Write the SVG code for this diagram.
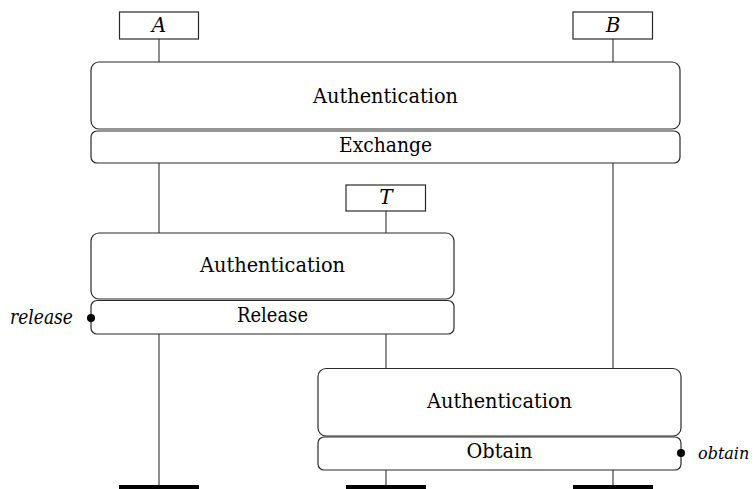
<svg xmlns="http://www.w3.org/2000/svg" width="756" height="489" viewBox="0 0 756 489">
  <style>
    .box { fill: #fff; stroke: #2a2a2a; stroke-width: 1.2; }
    .life { stroke: #444; stroke-width: 1.2; fill: none; }
    .bar { fill: #000; }
    .lbl { font-size: 21px; fill: #000; text-anchor: middle; }
    .it { font-style: italic; font-size: 20px; fill: #000; }
    .side { font-style: italic; font-size: 16px; fill: #000; }
    .dot { fill: #000; }
  </style>
  <rect width="756" height="489" fill="#fff"/>

  <!-- lifelines and terminators -->
  <g id="connectors">
    <path class="life" d="M159 39V62 M159 163V233 M159 334V487"/>
    <path class="life" d="M613 39V62 M613 163V368 M613 470V487"/>
    <path class="life" d="M386 211V233 M386 334V368 M386 470V487"/>
    <rect class="bar" x="119" y="485" width="80" height="4"/>
    <rect class="bar" x="346" y="485" width="80" height="4"/>
    <rect class="bar" x="573" y="485" width="80" height="4"/>
  </g>

  <g font-family="'DejaVu Serif', 'Liberation Serif', serif">
  <g id="A">
    <rect class="box" x="119.5" y="12" width="79" height="27"/>
    <text class="it" x="159" y="32" text-anchor="middle">A</text>
  </g>
  <g id="B">
    <rect class="box" x="573" y="12" width="79.5" height="27"/>
    <text class="it" x="613" y="32" text-anchor="middle">B</text>
  </g>
  <g id="T">
    <rect class="box" x="346" y="185" width="79.5" height="26"/>
    <text class="it" x="386" y="204" text-anchor="middle">T</text>
  </g>

  <g id="exchange">
    <rect class="box" x="91" y="62" width="589" height="67" rx="8"/>
    <text class="lbl" x="385.5" y="103" textLength="145" lengthAdjust="spacingAndGlyphs">Authentication</text>
    <rect class="box" x="91" y="131" width="589" height="32" rx="6"/>
    <text class="lbl" x="385.5" y="152" textLength="93" lengthAdjust="spacingAndGlyphs">Exchange</text>
  </g>

  <g id="release">
    <rect class="box" x="91" y="233" width="363" height="66" rx="8"/>
    <text class="lbl" x="272.5" y="272" textLength="145" lengthAdjust="spacingAndGlyphs">Authentication</text>
    <rect class="box" x="91" y="300.5" width="363" height="33.5" rx="6"/>
    <text class="lbl" x="272.5" y="322" textLength="71" lengthAdjust="spacingAndGlyphs">Release</text>
    <circle class="dot" cx="91" cy="318" r="4"/>
    <text class="it" x="73" y="324" text-anchor="end" textLength="63" lengthAdjust="spacingAndGlyphs">release</text>
  </g>

  <g id="obtain">
    <rect class="box" x="318" y="368.5" width="363" height="67.5" rx="8"/>
    <text class="lbl" x="499.5" y="408" textLength="145" lengthAdjust="spacingAndGlyphs">Authentication</text>
    <rect class="box" x="318" y="437" width="363" height="33" rx="6"/>
    <text class="lbl" x="499.5" y="458" textLength="66" lengthAdjust="spacingAndGlyphs">Obtain</text>
    <circle class="dot" cx="681" cy="453" r="4"/>
    <text class="side" x="698" y="459">obtain</text>
  </g>
  </g>
</svg>
